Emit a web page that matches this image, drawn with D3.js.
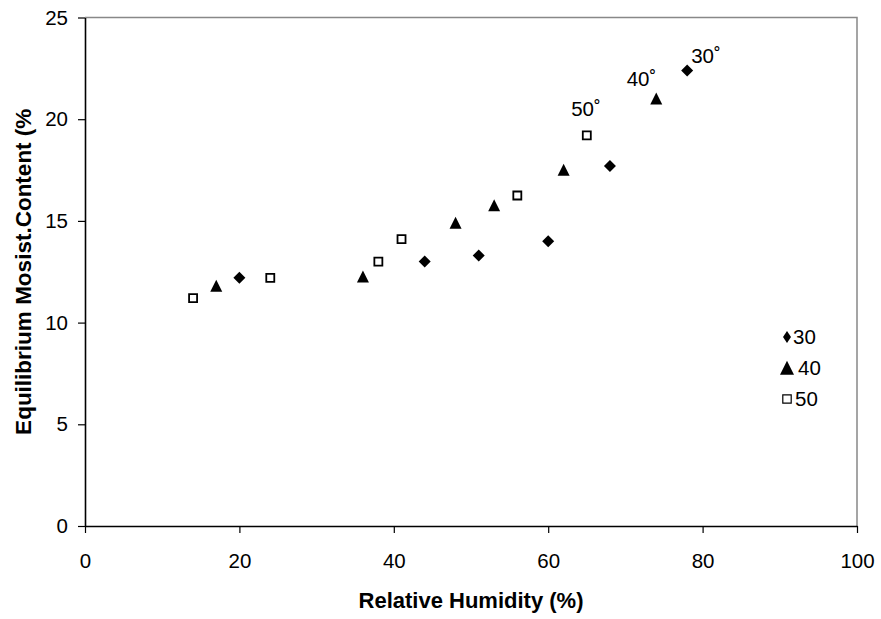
<!DOCTYPE html>
<html>
<head>
<meta charset="utf-8">
<script src="https://cdn.jsdelivr.net/npm/d3@7"></script>
<style>
  body { margin: 0; background: #fff; }
  svg { display: block; font-family: 'Liberation Sans', Arial, sans-serif; }
</style>
</head>
<body>
<svg id="chart"></svg>
<script>
// series names (temperature, degrees C)
const seriesNames = ['30', '40', '50']

// relative humidity (%) and equilibrium moisture content (%) per series
const rh30 = [20, 44, 51, 60, 68, 78]
const emc30 = [12.2, 13.0, 13.3, 14.0, 17.7, 22.4]

const rh40 = [17, 36, 48, 53, 62, 74]
const emc40 = [11.8, 12.25, 14.9, 15.75, 17.5, 21.0]

const rh50 = [14, 24, 38, 41, 56, 65]
const emc50 = [11.2, 12.2, 13.0, 14.1, 16.25, 19.2]

const xTicks = [0, 20, 40, 60, 80, 100]
const yTicks = [0, 5, 10, 15, 20, 25]

const xTitle = 'Relative Humidity (%)'
const yTitle = 'Equilibrium Mosist.Content (%'

const width = 881
const height = 619

const x = d3.scaleLinear().domain([0, 100]).range([85, 857])
const y = d3.scaleLinear().domain([0, 25]).range([526, 17.5])

const svg = d3.select('#chart')
    .attr('width', width)
    .attr('height', height)

// marker shapes
const diamond = (s) => `M0,${-s}L${s},0L0,${s}L${-s},0Z`
const triangle = (s) => `M0,${-s * 1.05}L${s},${s * 0.95}L${-s},${s * 0.95}Z`
const square = (s) => `M${-s},${-s}H${s}V${s}H${-s}Z`

const seriesStyle = {
    '30': { path: diamond(6), legendPath: 'M0,-6L4,0L0,6L-4,0Z', fill: '#000', stroke: 'none' },
    '40': { path: triangle(6), legendPath: triangle(7), fill: '#000', stroke: 'none' },
    '50': { path: square(4), legendPath: square(4.2), fill: '#fff', stroke: '#000' }
}

const series = [
    { name: '30', xs: rh30, ys: emc30 },
    { name: '40', xs: rh40, ys: emc40 },
    { name: '50', xs: rh50, ys: emc50 }
]

// plot frame: gray top and right border
svg.append('path')
    .attr('d', `M${x(0)},${y(25)}H${x(100)}V${y(0)}`)
    .attr('fill', 'none')
    .attr('stroke', '#888')
    .attr('stroke-width', 1.5)

// axes
const xAxis = svg.append('g')
    .attr('transform', `translate(0,${y(0)})`)
    .call(d3.axisBottom(x).tickValues(xTicks).tickSize(7).tickPadding(20).tickSizeOuter(0))

const yAxis = svg.append('g')
    .attr('transform', `translate(${x(0)},0)`)
    .call(d3.axisLeft(y).tickValues(yTicks).tickSize(7).tickPadding(10).tickSizeOuter(0))

for (const ax of [xAxis, yAxis]) {
    ax.select('.domain').attr('stroke', '#000').attr('stroke-width', 1.6)
    ax.selectAll('.tick line').attr('stroke', '#000').attr('stroke-width', 1.2)
    ax.selectAll('.tick text')
        .attr('fill', '#000')
        .style('font-size', '20.5px')
        .style('font-family', "'Liberation Sans', Arial, sans-serif")
}

// axis titles
svg.append('text')
    .attr('x', (x(0) + x(100)) / 2)
    .attr('y', 608)
    .attr('text-anchor', 'middle')
    .style('font-size', '22px')
    .style('font-weight', 'bold')
    .text(xTitle)

svg.append('text')
    .attr('transform', `translate(31,${(y(0) + y(25)) / 2}) rotate(-90)`)
    .attr('text-anchor', 'middle')
    .style('font-size', '22.5px')
    .style('font-weight', 'bold')
    .text(yTitle)

// points
series.forEach((s) => {
    const st = seriesStyle[s.name]
    svg.append('g')
        .selectAll('path')
        .data(s.xs.map((v, i) => [v, s.ys[i]]))
        .join('path')
        .attr('transform', (d) => `translate(${x(d[0])},${y(d[1])})`)
        .attr('d', st.path)
        .attr('fill', st.fill)
        .attr('stroke', st.stroke)
        .attr('stroke-width', 1.8)
})

// temperature labels near the last point of each series
const labelOffset = {
    '30': { dx: 4, dy: -7, anchor: 'start' },
    '40': { dx: 0, dy: -12.5, anchor: 'end' },
    '50': { dx: 14, dy: -19, anchor: 'end' }
}

series.forEach((s) => {
    const n = s.xs.length - 1
    const o = labelOffset[s.name]
    svg.append('text')
        .attr('x', x(s.xs[n]) + o.dx)
        .attr('y', y(s.ys[n]) + o.dy)
        .attr('text-anchor', o.anchor)
        .style('font-size', '20.5px')
        .text(s.name + '\u02DA')
})

// legend
const legend = svg.append('g')
    .attr('transform', 'translate(787,337)')

const legendRow = legend.selectAll('g')
    .data(seriesNames)
    .join('g')
    .attr('transform', (d, i) => `translate(0,${i * 31})`)

legendRow.append('path')
    .attr('d', (d) => seriesStyle[d].legendPath)
    .attr('fill', (d) => seriesStyle[d].fill)
    .attr('stroke', (d) => seriesStyle[d].stroke)
    .attr('stroke-width', 1.2)

legendRow.append('text')
    .attr('x', (d) => d === '40' ? 11 : d === '30' ? 6 : 8)
    .attr('y', 7)
    .style('font-size', '20.5px')
    .text((d) => d)
</script>
</body>
</html>
